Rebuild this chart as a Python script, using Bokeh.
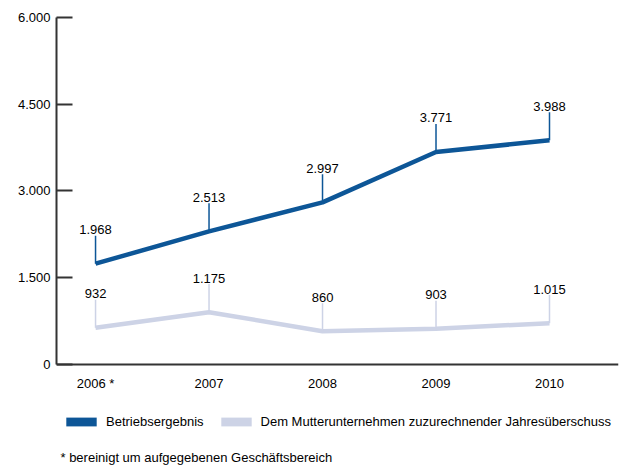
from bokeh.plotting import figure
from bokeh.models import FixedTicker, Legend, LegendItem, Label, Range1d
from bokeh.core.properties import value
from bokeh.embed import file_html
from bokeh.resources import INLINE

# ---- data ----
years = [2006, 2007, 2008, 2009, 2010]
year_labels = ["2006 *", "2007", "2008", "2009", "2010"]
betrieb_plot = [1743, 2302, 2804, 3674, 3877]
betrieb_labels = ["1.968", "2.513", "2.997", "3.771", "3.988"]
jahres_plot = [635, 905, 576, 618, 715]
jahres_labels = ["932", "1.175", "860", "903", "1.015"]
y_ticks = [0, 1500, 3000, 4500, 6000]
y_tick_labels = ["0", "1.500", "3.000", "4.500", "6.000"]
series_names = ["Betriebsergebnis",
                "Dem Mutterunternehmen zuzurechnender Jahresüberschuss"]
footnote = "* bereinigt um aufgegebenen Geschäftsbereich"

# ---- style ----
DARK = "#0d5697"
LIGHT = "#cdd3e6"
AXIS = "#333333"
TXT = "#000000"
FONT = "Liberation Sans"
LEADER = 485  # leader line length (data units)

p = figure(width=627, height=467,
           x_range=Range1d(2005.656, 2010.608), y_range=Range1d(-1781, 6000),
           output_backend="svg", toolbar_location=None,
           min_border_left=56, min_border_right=9,
           min_border_top=17, min_border_bottom=0)
p.outline_line_color = None
p.grid.visible = False
p.background_fill_color = "white"

# axes
p.yaxis.ticker = FixedTicker(ticks=y_ticks)
p.yaxis.bounds = (0, 6000)
p.yaxis.major_label_overrides = {t: l for t, l in zip(y_ticks, y_tick_labels)}
p.yaxis.major_tick_in = 16
p.yaxis.major_tick_out = 0
p.yaxis.minor_tick_line_color = None
p.yaxis.axis_line_width = 2
p.yaxis.axis_line_color = AXIS
p.yaxis.major_tick_line_width = 2
p.yaxis.major_tick_line_color = AXIS
p.yaxis.major_label_standoff = 6
p.yaxis.major_label_text_font = FONT
p.yaxis.major_label_text_font_size = "13px"
p.yaxis.major_label_text_color = TXT

p.xaxis.fixed_location = 0
p.xaxis.ticker = FixedTicker(ticks=years)
p.xaxis.major_label_overrides = {t: l for t, l in zip(years, year_labels)}
p.xaxis.major_tick_in = 0
p.xaxis.major_tick_out = 0
p.xaxis.minor_tick_line_color = None
p.xaxis.axis_line_width = 2
p.xaxis.axis_line_color = AXIS
p.xaxis.major_label_standoff = 12
p.xaxis.major_label_text_font = FONT
p.xaxis.major_label_text_font_size = "13px"
p.xaxis.major_label_text_color = TXT

# series
for vals, labels, color in ((jahres_plot, jahres_labels, LIGHT),
                            (betrieb_plot, betrieb_labels, DARK)):
    p.line(years, vals, line_width=4.5, line_color=color)
    tops = [v + LEADER for v in vals]
    p.segment(x0=years, y0=vals, x1=years, y1=tops,
              line_width=1.5, line_color=color)
    p.text(x=years, y=tops, text=labels, text_align="center",
           text_baseline="alphabetic", y_offset=-6,
           text_font=value(FONT), text_font_size="13px", text_color=TXT)

# legend swatches (zero-size dummy renderers, only used for legend glyphs)
r1 = p.quad(left=[years[0]], right=[years[0]], top=[0], bottom=[0],
            fill_color=DARK, line_color=None)
r2 = p.quad(left=[years[0]], right=[years[0]], top=[0], bottom=[0],
            fill_color=LIGHT, line_color=None)
legend = Legend(items=[LegendItem(label=series_names[0], renderers=[r1]),
                       LegendItem(label=series_names[1], renderers=[r2])],
                orientation="horizontal", location=(6, 38),
                glyph_width=38, glyph_height=11, label_height=11,
                label_standoff=6, spacing=13, padding=0, margin=0,
                border_line_color=None, background_fill_alpha=0,
                label_text_font=FONT, label_text_font_size="13px",
                label_text_color=TXT, label_text_baseline="middle")
p.add_layout(legend, "center")

# footnote
p.add_layout(Label(x=2005.691, y=-1608, text=footnote, text_font=FONT,
                   text_font_size="13px", text_color=TXT,
                   text_baseline="alphabetic"))

open("out.html", "w").write(file_html(p, INLINE))
